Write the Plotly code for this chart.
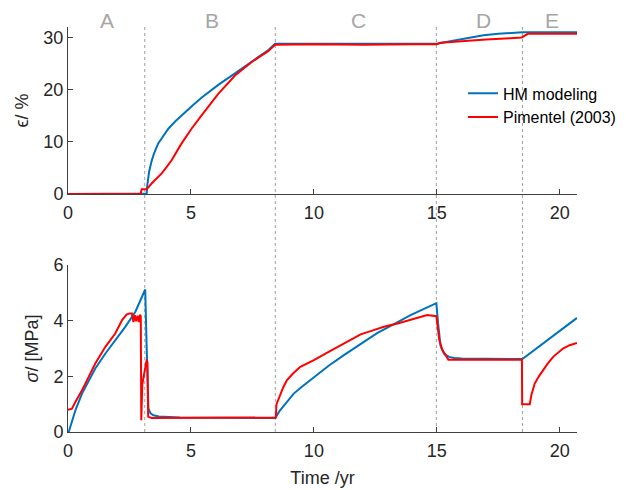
import plotly.graph_objects as go

# ---------------- data ----------------
# strain (top panel)
t_mod_eps = [0, 3.12, 3.2, 3.22, 3.27, 3.3, 3.4, 3.5, 3.67, 3.85, 4.08, 4.4, 4.76, 5.1, 5.44,
             6.11, 6.79, 7.47, 8.15, 8.42, 10, 12.5, 15.0, 15.6, 16.2, 16.9, 17.5, 18.0,
             18.48, 19.5, 20.7]
eps_mod = [0, 0, 0.1, 1.5, 3.3, 4.3, 6.3, 7.8, 9.7, 11.0, 12.5, 14.1, 15.7, 17.1, 18.5,
           20.9, 23.1, 25.3, 27.6, 28.8, 28.8, 28.8, 28.8, 29.3, 29.85, 30.4, 30.7, 30.85,
           31.0, 31.0, 31.0]

t_obs_eps = [0, 2.95, 3.0, 3.2, 3.4, 3.6, 3.81, 4.0, 4.22, 4.62, 5.03, 5.44, 6.11, 6.79,
             7.47, 8.15, 8.42, 10, 12, 14, 15.0, 15.15, 16, 17, 18, 18.45, 18.7, 20.7]
eps_obs = [0, 0, 0.9, 0.9, 2.0, 2.9, 3.95, 5.1, 6.5, 9.7, 12.55, 15.1, 19.2, 22.7,
           25.3, 27.4, 28.6, 28.7, 28.6, 28.7, 28.7, 29.0, 29.3, 29.6, 29.85, 30.0, 30.7, 30.7]

# stress (bottom panel)
t_mod_sig = [0.03, 0.3, 0.57, 0.84, 1.11, 1.52, 1.92, 2.33, 2.74, 3.14, 3.2, 3.27, 3.35, 3.47,
             3.7, 4.0, 4.55, 6.0, 8.43, 8.6, 8.8, 9.18, 9.5, 10, 10.6, 11.22, 11.9, 12.57,
             13.2, 13.93, 14.5, 14.98, 15.05, 15.15, 15.3, 15.5, 15.7, 16.0, 17.0, 18.48, 20.7]
sig_mod = [0, 0.78, 1.38, 1.86, 2.28, 2.82, 3.3, 3.78, 4.32, 5.12, 3.0, 0.85, 0.68, 0.6,
           0.56, 0.54, 0.52, 0.51, 0.5, 0.75, 0.98, 1.38, 1.62, 1.98, 2.38, 2.76, 3.17, 3.55,
           3.85, 4.2, 4.43, 4.63, 3.9, 3.1, 2.8, 2.7, 2.66, 2.64, 2.63, 2.62, 4.1]

t_obs_sig = [0, 0.16, 0.3, 0.57, 0.84, 1.11, 1.52, 1.92, 2.2, 2.38, 2.5, 2.6, 2.66, 2.72,
             2.77, 2.83, 2.88, 2.93, 2.96, 2.98, 3.02, 3.07, 3.12, 3.16, 3.2, 3.23, 3.26,
             3.4, 5.0, 8.43, 8.45, 8.48, 8.6, 8.75, 8.9, 9.15, 9.45, 10, 10.6, 11.22, 11.9,
             12.4, 12.85, 13.4, 13.93, 14.61, 14.98, 15.05, 15.1, 15.22, 15.34, 15.47, 16,
             18.46, 18.47, 18.78, 18.85, 18.98, 19.15, 19.32, 19.5, 19.73, 20.13, 20.4,
             20.6, 20.7]
sig_obs = [0.8, 0.84, 1.08, 1.5, 1.98, 2.46, 3.06, 3.54, 4.02, 4.22, 4.26, 4.26, 3.95, 4.2,
           3.98, 4.18, 3.95, 4.22, 4.15, 0.42, 1.7, 1.95, 2.1, 2.3, 2.6, 2.5, 0.55,
           0.5, 0.5, 0.5, 0.52, 1.0, 1.3, 1.6, 1.86, 2.1, 2.34, 2.58, 2.88, 3.18, 3.51,
           3.65, 3.78, 3.9, 4.02, 4.2, 4.16, 3.6, 3.3, 2.95, 2.78, 2.6, 2.6,
           2.6, 1.0, 1.0, 1.35, 1.74, 2.0, 2.22, 2.45, 2.7, 3.0, 3.12,
           3.18, 3.2]

phase_bounds = [3.12, 8.43, 14.98, 18.48]
phase_labels = ["A", "B", "C", "D", "E"]
phase_label_x = [1.59, 5.86, 11.8, 16.88, 19.68]

x_ticks = [0, 5, 10, 15, 20]
eps_ticks = [0, 10, 20, 30]
sig_ticks = [0, 2, 4, 6]

BLUE = "#0072BD"
RED = "#FF0000"
FONT = "Liberation Sans, Arial, sans-serif"
AX = "#404040"
TXT = "#262626"

fig = go.Figure()
fig.add_trace(go.Scatter(x=t_mod_eps, y=eps_mod, mode="lines", name="HM modeling",
                         line=dict(color=BLUE, width=2), xaxis="x", yaxis="y"))
fig.add_trace(go.Scatter(x=t_obs_eps, y=eps_obs, mode="lines", name="Pimentel (2003)",
                         line=dict(color=RED, width=2), xaxis="x", yaxis="y"))
fig.add_trace(go.Scatter(x=t_mod_sig, y=sig_mod, mode="lines", name="HM modeling",
                         line=dict(color=BLUE, width=2), xaxis="x2", yaxis="y2",
                         showlegend=False))
fig.add_trace(go.Scatter(x=t_obs_sig, y=sig_obs, mode="lines", name="Pimentel (2003)",
                         line=dict(color=RED, width=2), xaxis="x2", yaxis="y2",
                         showlegend=False))

axis_common = dict(showline=True, linecolor=AX, linewidth=1, ticks="inside", ticklen=5,
                   tickcolor=AX, showgrid=False, zeroline=False, mirror=False,
                   automargin=False,
                   tickfont=dict(family=FONT, size=18, color=TXT))

shapes = []
for xb in phase_bounds:
    shapes.append(dict(type="line", xref="x", yref="paper", x0=xb, x1=xb, y0=0, y1=1.0,
                       line=dict(color="#a0a0a0", width=1, dash="3px,3px"), layer="below"))

annotations = []
for lab, xl in zip(phase_labels, phase_label_x):
    annotations.append(dict(text=lab, x=xl, y=1.017, xref="x", yref="paper",
                            showarrow=False, yanchor="middle",
                            font=dict(family=FONT, size=21, color="#a6a6a6")))

fig.update_layout(
    width=626, height=490,
    margin=dict(l=68, r=49, t=27, b=58, autoexpand=False),
    paper_bgcolor="white", plot_bgcolor="white",
    font=dict(family=FONT, color=TXT),
    xaxis=dict(domain=[0, 1], anchor="y", range=[0, 20.7], tickvals=x_ticks,
               ticklabelstandoff=2, **axis_common),
    yaxis=dict(domain=[0.5877, 1], anchor="x", range=[0, 32], tickvals=eps_ticks,
               title=dict(text="ϵ/ %", font=dict(family=FONT, size=18, color=TXT), standoff=10),
               **axis_common),
    xaxis2=dict(domain=[0, 1], anchor="y2", range=[0, 20.7], tickvals=x_ticks,
                ticklabelstandoff=2,
                title=dict(text="Time /yr", font=dict(family=FONT, size=18, color=TXT), standoff=11),
                **axis_common),
    yaxis2=dict(domain=[0, 0.4123], anchor="x2", range=[0, 6], tickvals=sig_ticks,
                title=dict(text="<i>σ</i>/ [MPa]", font=dict(family=FONT, size=18, color=TXT), standoff=10),
                **axis_common),
    legend=dict(x=0.776, y=0.878, xanchor="left", yanchor="top", bgcolor="rgba(0,0,0,0)",
                font=dict(family=FONT, size=16, color="#000000"), tracegroupgap=0),
    shapes=shapes, annotations=annotations, showlegend=True,
)

fig.write_html("out.html")
